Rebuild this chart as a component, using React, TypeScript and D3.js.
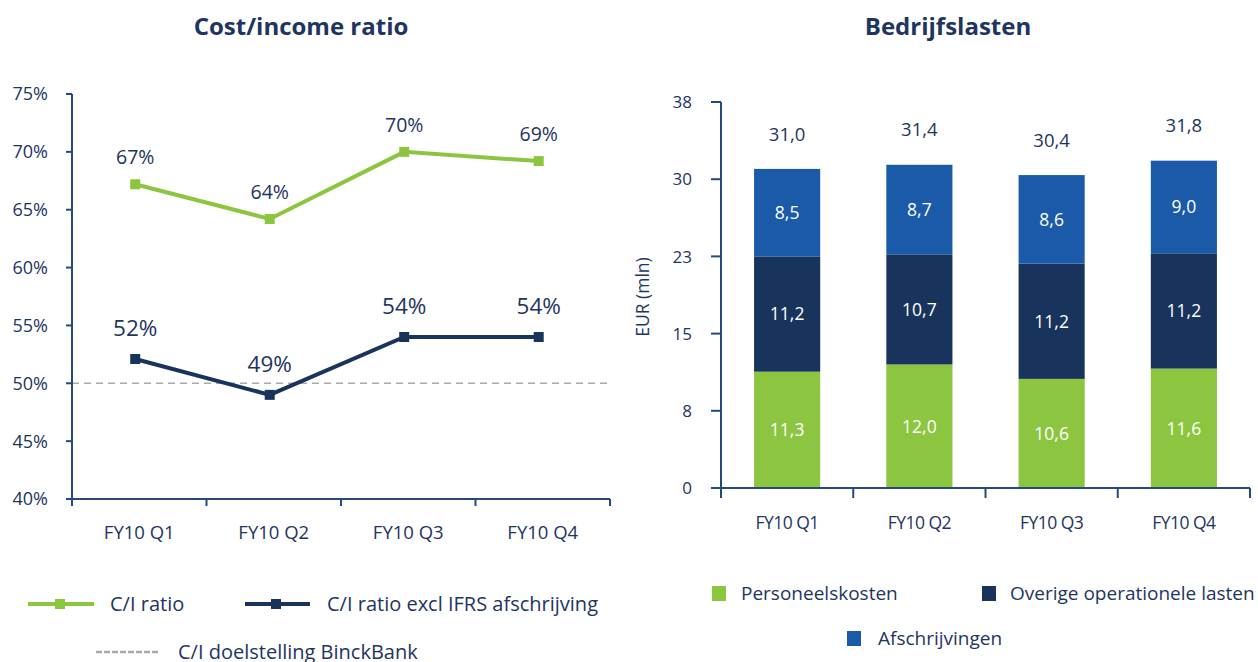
import React from "react";
import * as d3 from "d3";

// categories shared by both panels
const quarters = ["FY10 Q1", "FY10 Q2", "FY10 Q3", "FY10 Q4"];

// left panel: cost/income ratio (%)
const ciRatio = [67.2, 64.2, 70.0, 69.2];
const ciRatioExcl = [52.1, 49.0, 54.0, 54.0];
const ciTarget = 50;
const ciTicks = [40, 45, 50, 55, 60, 65, 70, 75];

// right panel: bedrijfslasten (EUR mln)
const personeelskosten = [11.3, 12.0, 10.6, 11.6];
const overigeLasten = [11.2, 10.7, 11.2, 11.2];
const afschrijvingen = [8.5, 8.7, 8.6, 9.0];
const costTicks = [0, 7.5, 15, 22.5, 30, 37.5];

const FONT = "'Open Sans', 'Noto Sans', sans-serif";
const NAVY_TEXT = "#1e355f";
const AXIS = "#274a7c";
const GREEN = "#8cc540";
const NAVY = "#19345c";
const BLUE = "#1b5aa8";
const GREY = "#aaaaaa";

const nl = d3.formatLocale({ decimal: ",", thousands: ".", grouping: [3], currency: ["€", ""] });
const fmt1 = nl.format(".1f");

function CostIncome() {
  const x = d3.scaleBand().domain(quarters).range([72, 610]);
  const y = d3.scaleLinear().domain([40, 75]).range([499, 94]);
  const px = (c: string) => (x(c) as number) + x.bandwidth() * 0.47;

  const lineGen = d3
    .line<number>()
    .x((_, i) => px(quarters[i]))
    .y((v) => y(v));

  const series = [
    { values: ciRatio, color: GREEN, size: 19.5, dy: -20 },
    { values: ciRatioExcl, color: NAVY, size: 22.5, dy: -23 },
  ];

  return (
    <g>
      <text x={301} y={35} textAnchor="middle" fontSize={24} fontWeight="bold" fill={NAVY_TEXT}>
        Cost/income ratio
      </text>
      {/* target line */}
      <line x1={72} x2={610} y1={y(ciTarget)} y2={y(ciTarget)} stroke={GREY} strokeWidth={1.5} strokeDasharray="7,5" />
      {/* axes */}
      <line x1={72} x2={72} y1={y(75)} y2={y(40)} stroke={AXIS} strokeWidth={2} />
      <line x1={72} x2={610} y1={y(40)} y2={y(40)} stroke={AXIS} strokeWidth={2} />
      {ciTicks.map((t) => (
        <g key={t}>
          <line x1={66} x2={72} y1={y(t)} y2={y(t)} stroke={AXIS} strokeWidth={2} />
          <text x={48} y={y(t)} dy="0.36em" textAnchor="end" fontSize={18} fill={NAVY_TEXT}>
            {t}%
          </text>
        </g>
      ))}
      {[...quarters.map((q) => x(q) as number), 610].map((v, i) => (
        <line key={i} x1={v} x2={v} y1={y(40)} y2={y(40) + 7} stroke={AXIS} strokeWidth={2} />
      ))}
      {quarters.map((q) => (
        <text key={q} x={(x(q) as number) + x.bandwidth() / 2} y={539} textAnchor="middle" fontSize={18.5} fill={NAVY_TEXT}>
          {q}
        </text>
      ))}
      {series.map((s, si) => (
        <g key={si}>
          <path d={lineGen(s.values) || ""} fill="none" stroke={s.color} strokeWidth={4} />
          {s.values.map((v, i) => (
            <g key={i}>
              <rect x={px(quarters[i]) - 5} y={y(v) - 5} width={10} height={10} fill={s.color} />
              <text x={px(quarters[i])} y={y(v) + s.dy} textAnchor="middle" fontSize={s.size} fill={NAVY_TEXT}>
                {Math.round(v)}%
              </text>
            </g>
          ))}
        </g>
      ))}
      {/* legend */}
      <line x1={28} x2={94} y1={604} y2={604} stroke={GREEN} strokeWidth={4} />
      <rect x={55} y={599} width={10} height={10} fill={GREEN} />
      <text x={110} y={611} fontSize={20} fill={NAVY_TEXT}>C/I ratio</text>
      <line x1={245} x2={310} y1={604} y2={604} stroke={NAVY} strokeWidth={4} />
      <rect x={271} y={599} width={10} height={10} fill={NAVY} />
      <text x={327} y={611} fontSize={20} fill={NAVY_TEXT}>C/I ratio excl IFRS afschrijving</text>
      <line x1={96} x2={159} y1={652} y2={652} stroke={GREY} strokeWidth={2.5} strokeDasharray="6,2" />
      <text x={178} y={659} fontSize={20} fill={NAVY_TEXT}>C/I doelstelling BinckBank</text>
    </g>
  );
}

function Bedrijfslasten() {
  const x = d3.scaleBand().domain(quarters).range([721, 1250]);
  const y = d3.scaleLinear().domain([0, 37.5]).range([488, 102]);
  const rows = quarters.map((q, i) => ({
    q,
    p: personeelskosten[i],
    o: overigeLasten[i],
    a: afschrijvingen[i],
  }));
  const keys = ["p", "o", "a"];
  const colors: Record<string, string> = { p: GREEN, o: NAVY, a: BLUE };
  const stacked = d3.stack<any>().keys(keys)(rows);
  const barW = x.bandwidth() * 0.5;
  const cx = (q: string) => (x(q) as number) + x.bandwidth() / 2;

  return (
    <g>
      <text x={948} y={35} textAnchor="middle" fontSize={24} fontWeight="bold" fill={NAVY_TEXT}>
        Bedrijfslasten
      </text>
      {stacked.map((layer) => (
        <g key={layer.key}>
          {layer.map((d, i) => (
            <g key={i}>
              <rect x={cx(quarters[i]) - barW / 2} y={y(d[1])} width={barW} height={y(d[0]) - y(d[1])} fill={colors[layer.key]} />
              <text x={cx(quarters[i])} y={(y(d[0]) + y(d[1])) / 2} dy="0.36em" textAnchor="middle" fontSize={17.5} fill="#ffffff">
                {fmt1(d[1] - d[0])}
              </text>
            </g>
          ))}
        </g>
      ))}
      {rows.map((r) => {
        const total = r.p + r.o + r.a;
        return (
          <text key={r.q} x={cx(r.q)} y={y(total) - 35} dy="0.36em" textAnchor="middle" fontSize={18.5} fill={NAVY_TEXT}>
            {fmt1(total)}
          </text>
        );
      })}
      {/* axes */}
      <line x1={721} x2={721} y1={y(37.5)} y2={y(0) + 10} stroke={AXIS} strokeWidth={2} />
      <line x1={721} x2={1250} y1={y(0)} y2={y(0)} stroke={AXIS} strokeWidth={2} />
      {costTicks.map((t) => (
        <g key={t}>
          <line x1={711} x2={721} y1={y(t)} y2={y(t)} stroke={AXIS} strokeWidth={2} />
          <text x={692} y={y(t)} dy="0.36em" textAnchor="end" fontSize={17} fill={NAVY_TEXT}>
            {Math.round(t)}
          </text>
        </g>
      ))}
      {[...quarters.map((q) => x(q) as number), 1250].map((v, i) => (
        <line key={i} x1={v} x2={v} y1={y(0)} y2={y(0) + 10} stroke={AXIS} strokeWidth={2} />
      ))}
      {quarters.map((q) => (
        <text key={q} x={cx(q)} y={529} textAnchor="middle" fontSize={17.5} letterSpacing={-0.5} fill={NAVY_TEXT}>
          {q}
        </text>
      ))}
      <text transform="translate(643,297) rotate(-90)" textAnchor="middle" dy="0.36em" fontSize={17.5} fill={NAVY_TEXT}>
        EUR (mln)
      </text>
      {/* legend */}
      <rect x={712} y={586} width={14} height={15} fill={GREEN} />
      <text x={741} y={600} fontSize={19} fill={NAVY_TEXT}>Personeelskosten</text>
      <rect x={982} y={586} width={14} height={15} fill={NAVY} />
      <text x={1010} y={600} fontSize={19} fill={NAVY_TEXT}>Overige operationele lasten</text>
      <rect x={847} y={631} width={14} height={15} fill={BLUE} />
      <text x={878} y={645} fontSize={19} fill={NAVY_TEXT}>Afschrijvingen</text>
    </g>
  );
}

export default function App() {
  return (
    <svg
      width={1258}
      height={662}
      style={{ position: "absolute", left: 0, top: 0, background: "#fff" }}
      fontFamily={FONT}
    >
      <CostIncome />
      <Bedrijfslasten />
    </svg>
  );
}
